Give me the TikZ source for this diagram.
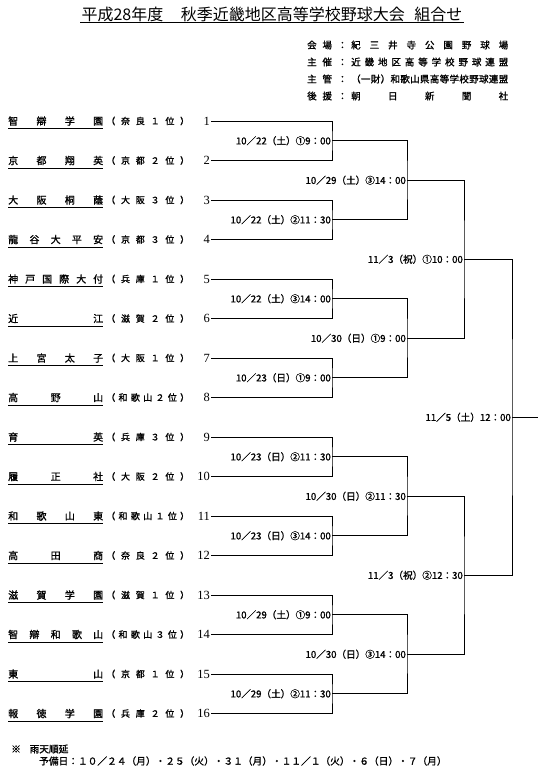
\documentclass[tikz,border=0pt]{standalone}
\usepackage{fontspec}
\setmainfont{Noto Sans CJK JP}
\newfontfamily\jpb{Noto Sans CJK JP}[FakeBold=1.2]
\newfontfamily\numfont{Liberation Serif}
\usetikzlibrary{positioning}
\newcommand\spreadout[2]{\edef\spreadtmp{#2}\makebox[#1][s]{\expandafter\spreadaux\spreadtmp\relax}}
\def\spreadaux#1#2{#1\ifx\relax#2\else\hfill\expandafter\spreadaux\expandafter#2\fi}
\tikzset{
  tname/.style={anchor=west,inner sep=0pt,font=\jpb\fontsize{10}{12}\selectfont},
  pref/.style={anchor=west,inner sep=0pt,font=\jpb\fontsize{9}{11}\selectfont},
  num/.style={anchor=east,inner sep=1pt,font=\numfont\fontsize{12.5}{14}\selectfont},
  mlab/.style={anchor=east,inner sep=1pt,font=\jpb\fontsize{9.6}{11}\selectfont},
  hdr/.style={anchor=west,inner sep=0pt,font=\jpb\fontsize{9.5}{11}\selectfont},
  note/.style={anchor=west,inner sep=0pt,font=\jpb\fontsize{9.7}{11}\selectfont},
  uline/.style={line width=0.8pt},
  brk/.style={line width=0.75pt}
}
\begin{document}
\begin{tikzpicture}[x=1pt,y=-1pt]
  \useasboundingbox (0,0) rectangle (540,773);
  % title
  \node[inner sep=1pt,font=\fontsize{16}{18}\selectfont] (title) at (272,14)
    {平成28年度\hspace{1.1em}秋季近畿地区高等学校野球大会\hspace{0.6em}組合せ};
  \draw[uline] (title.south west) -- (title.south east);
  % header
  \foreach \r/\hd/\bd in {0/会場：/紀三井寺公園野球場, 1/主催：/近畿地区高等学校野球連盟,
                          2/主管：/（一財）和歌山県高等学校野球連盟, 3/後援：/朝日新聞社} {
    \node[hdr] (hd\r) at (307,{45+17*\r}) {\spreadout{40pt}{\hd}};
    \node[hdr] (bd\r) at (351,{45+17*\r}) {\spreadout{157pt}{\bd}};
  }
  % teams
  \foreach \i/\nm/\pf in {1/智辯学園/奈良１位, 2/京都翔英/京都２位, 3/大阪桐蔭/大阪３位,
      4/龍谷大平安/京都３位, 5/神戸国際大付/兵庫１位, 6/近江/滋賀２位, 7/上宮太子/大阪１位,
      8/高野山/和歌山２位, 9/育英/兵庫３位, 10/履正社/大阪２位, 11/和歌山東/和歌山１位,
      12/高田商/奈良２位, 13/滋賀学園/滋賀１位, 14/智辯和歌山/和歌山３位, 15/東山/京都１位,
      16/報徳学園/兵庫２位} {
    \pgfmathsetmacro\yy{121+39.5*(\i-1)}
    \node[tname] (name\i) at (8,\yy) {\spreadout{95pt}{\nm}};
    \draw[uline] ([yshift=-3pt]name\i.south west) -- ([yshift=-3pt]name\i.south east);
    \node[pref] (pref\i) at (106,\yy) {\spreadout{83pt}{（\pf）}};
    \node[num] (num\i) at (211,\yy) {\i};
  }
  % first round
  \foreach \j/\txt in {1/{10／22（土）①9：00}, 2/{10／22（土）②11：30}, 3/{10／22（土）③14：00},
      4/{10／23（日）①9：00}, 5/{10／23（日）②11：30}, 6/{10／23（日）③14：00},
      7/{10／29（土）①9：00}, 8/{10／29（土）②11：30}} {
    \pgfmathtruncatemacro\ta{2*\j-1}
    \pgfmathtruncatemacro\tb{2*\j}
    \coordinate (a\j) at (332,{140.75+79*(\j-1)});
    \draw[brk] (num\ta.east) -| (a\j) |- (num\tb.east);
    \node[mlab] (la\j) at (a\j) {\txt};
  }
  % second round
  \foreach \k/\txt in {1/{10／29（土）③14：00}, 2/{10／30（日）①9：00},
      3/{10／30（日）②11：30}, 4/{10／30（日）③14：00}} {
    \pgfmathtruncatemacro\ta{2*\k-1}
    \pgfmathtruncatemacro\tb{2*\k}
    \coordinate (b\k) at (407,{180.25+158*(\k-1)});
    \draw[brk] (a\ta) -| (b\k) |- (a\tb);
    \node[mlab] (lb\k) at (b\k) {\txt};
  }
  % semi final
  \foreach \l/\txt in {1/{11／3（祝）①10：00}, 2/{11／3（祝）②12：30}} {
    \pgfmathtruncatemacro\ta{2*\l-1}
    \pgfmathtruncatemacro\tb{2*\l}
    \coordinate (c\l) at (464,{259.25+316*(\l-1)});
    \draw[brk] (b\ta) -| (c\l) |- (b\tb);
    \node[mlab] (lc\l) at (c\l) {\txt};
  }
  % final
  \coordinate (d) at (512,417.25);
  \coordinate (dend) at (538,417.25);
  \draw[brk] (c1) -| (d) |- (c2);
  \draw[brk] (d) -- (dend);
  \node[mlab] (ld) at (d) {11／5（土）12：00};
  % rain note
  \node[note] (rain) at (11,749) {※\hspace{0.9em}雨天順延};
  \node[note] (spare) at (39,761)
    {予備日：１０／２４（月）・２５（火）・３１（月）・１１／１（火）・６（日）・７（月）};
\end{tikzpicture}
\end{document}
